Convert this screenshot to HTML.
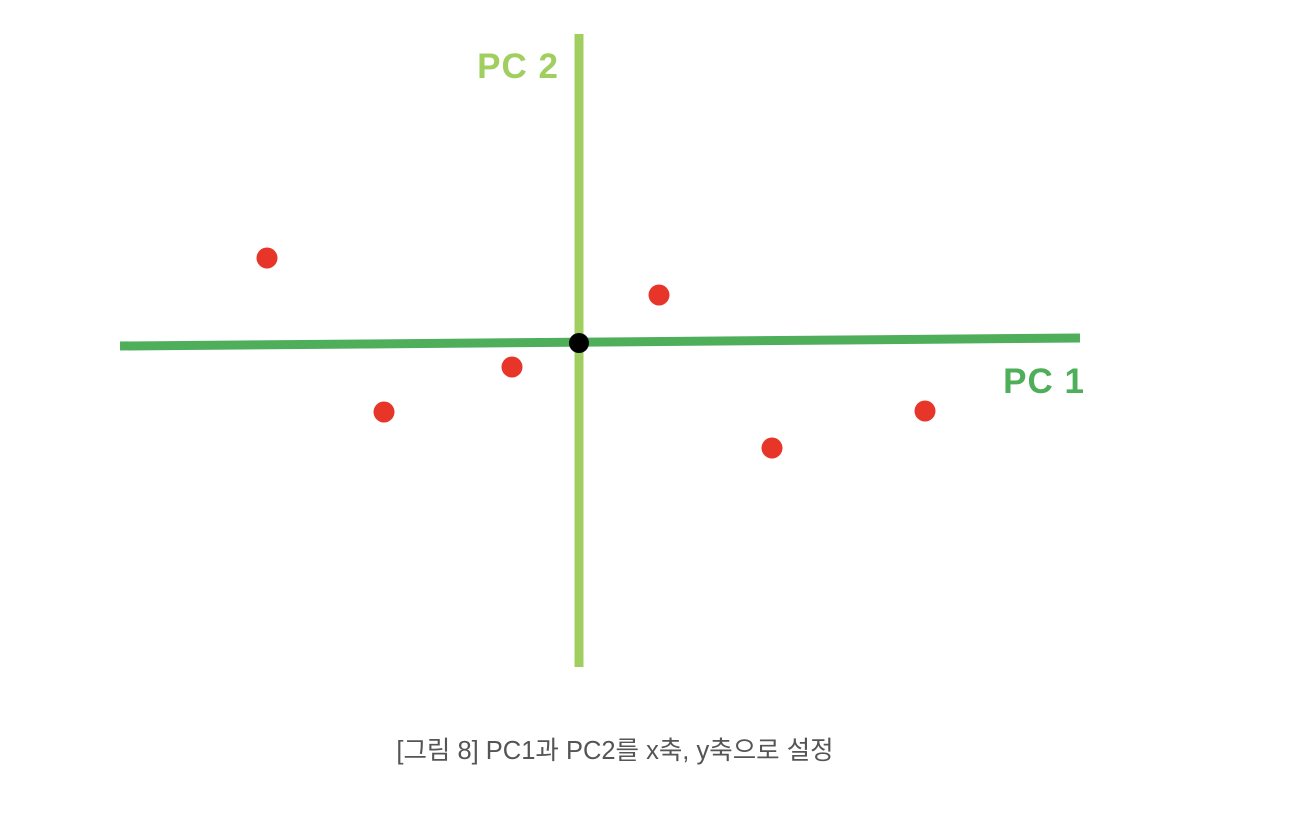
<!DOCTYPE html>
<html><head><meta charset="utf-8"><style>
body{margin:0;background:#fff;width:1306px;height:818px;overflow:hidden;}
svg{display:block}
</style></head><body>
<svg width="1306" height="818">
<g id="axes"></g>
<g id="pts"></g>
<text x="518" y="78" font-family="'Liberation Sans','DejaVu Sans',sans-serif" font-weight="bold" font-size="35" fill="#a0cf60" text-anchor="middle" letter-spacing="1">PC 2</text>
<text x="1044" y="393" font-family="'Liberation Sans','DejaVu Sans',sans-serif" font-weight="bold" font-size="35" fill="#4fae5a" text-anchor="middle" letter-spacing="1">PC 1</text>
<text x="615" y="759" font-family="'Liberation Sans','Noto Sans CJK KR',sans-serif" font-size="25.5" fill="#555" text-anchor="middle">[그림 8] PC1과 PC2를 x축, y축으로 설정</text>
</svg>
<script>
const pointX = [-312, -195, -67, 80, 193, 346];
const pointY = [85, -69, -24, 48, -105, -68];
const ox = 579, oy = 343;
function sx(v){return ox + v;}
function sy(v){return oy - v;}
const NS = "http://www.w3.org/2000/svg";
const axes = document.getElementById('axes');
const pts = document.getElementById('pts');
function mk(tag, attrs, parent){const e=document.createElementNS(NS,tag);for(const k in attrs)e.setAttribute(k,attrs[k]);parent.appendChild(e);return e;}
const v = mk('line',{x1:579,y1:34,x2:579,y2:667,stroke:'#a0cf60','stroke-width':9},axes);


const h = mk('line',{x1:120,y1:346,x2:1080,y2:338,stroke:'#4fae5a','stroke-width':9},axes);


for(let i=0;i<pointX.length;i++){
  const c = mk('circle',{cx:sx(pointX[i]),cy:sy(pointY[i]),r:10.5,fill:'#e8352a'},pts);
  
  
}
const o = mk('circle',{cx:ox,cy:oy,r:10,fill:'#000'},pts);


</script>
</body></html>
